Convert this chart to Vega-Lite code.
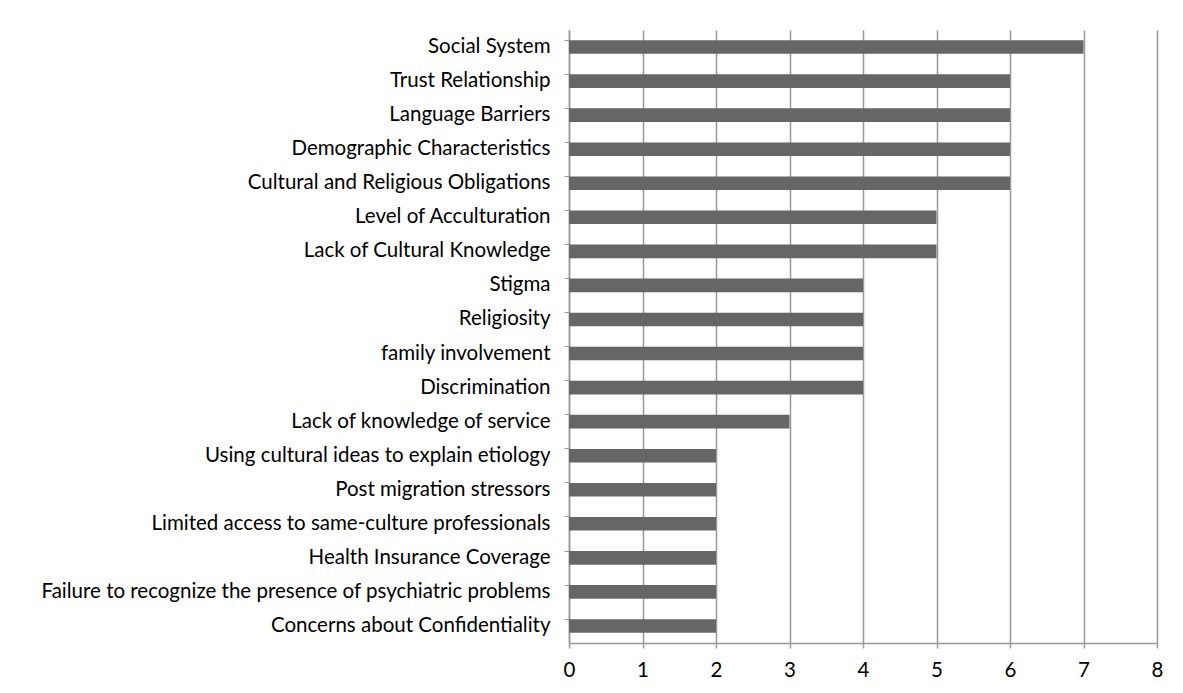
{
  "$schema": "https://vega.github.io/schema/vega-lite/v6.json",
  "width": 588,
  "height": 613,
  "autosize": {"type": "none"},
  "padding": {"left": 569, "top": 30, "right": 26, "bottom": 50},
  "background": "white",
  "data": {"values": [
    {"factor": "Social System", "count": 7},
    {"factor": "Trust Relationship ", "count": 6},
    {"factor": "Language Barriers", "count": 6},
    {"factor": "Demographic Characteristics", "count": 6},
    {"factor": "Cultural and Religious Obligations", "count": 6},
    {"factor": "Level of Acculturation", "count": 5},
    {"factor": "Lack of Cultural Knowledge", "count": 5},
    {"factor": "Stigma", "count": 4},
    {"factor": "Religiosity", "count": 4},
    {"factor": "family involvement", "count": 4},
    {"factor": "Discrimination", "count": 4},
    {"factor": "Lack of knowledge of service", "count": 3},
    {"factor": "Using cultural ideas to explain etiology ", "count": 2},
    {"factor": "Post migration stressors", "count": 2},
    {"factor": "Limited access to same-culture professionals", "count": 2},
    {"factor": "Health Insurance Coverage", "count": 2},
    {"factor": "Failure to recognize the presence of psychiatric problems", "count": 2},
    {"factor": "Concerns about Confidentiality", "count": 2}
  ]},
  "mark": {"type": "bar", "color": "#666666"},
  "encoding": {
    "y": {
      "field": "factor", "type": "nominal", "sort": null, "title": null,
      "scale": {"paddingInner": 0.6, "paddingOuter": 0.3},
      "axis": {
        "bandPosition": 0, "ticks": true, "tickSize": 5, "tickColor": "#999999",
        "domainColor": "#999999", "domainWidth": 1.5, "tickWidth": 1,
        "labelFont": "Lato", "labelFontSize": 20.5, "labelColor": "#000000",
        "labelLimit": 600, "labelPadding": 14, "grid": false
      }
    },
    "x": {
      "field": "count", "type": "quantitative", "title": null,
      "scale": {"domain": [0, 8], "nice": false},
      "axis": {
        "values": [0, 1, 2, 3, 4, 5, 6, 7, 8], "format": "d",
        "labelFlush": false,
        "grid": true, "gridColor": "#999999", "gridWidth": 1.5, "gridOpacity": 1,
        "tickSize": 5, "tickColor": "#999999", "tickWidth": 1.5,
        "domainColor": "#999999", "domainWidth": 1.5,
        "labelFont": "Lato", "labelFontSize": 20.5, "labelColor": "#000000",
        "labelPadding": 12
      }
    }
  },
  "config": {"view": {"stroke": null}}
}
